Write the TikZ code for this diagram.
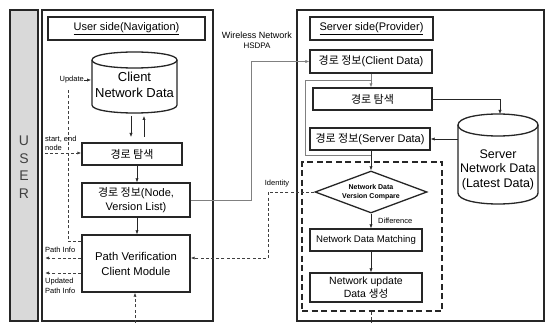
\documentclass[tikz,border=0pt]{standalone}
\usepackage{fontspec}
\setmainfont{Liberation Sans}
\newfontfamily\kr{Noto Sans CJK KR}
\usetikzlibrary{arrows.meta,shapes.geometric,calc}
\begin{document}
\begin{tikzpicture}[x=1pt,y=-1pt,
  frame/.style={draw=black!85, line width=1.3pt},
  box/.style={draw=black!85, line width=1.3pt, rectangle, inner sep=0pt, align=center,
    font=\fontsize{11}{13}\selectfont},
  cyltext/.style={inner sep=0pt, align=center, font=\fontsize{13}{16}\selectfont},
  arr/.style={draw=black!85, line width=0.6pt, -{Latex[length=4pt,width=3.2pt]}},
  gline/.style={draw=black!50, line width=0.7pt},
  garr/.style={gline, -{Latex[length=4pt,width=3.2pt]}},
  dline/.style={draw=black!75, line width=0.9pt, dash pattern=on 3pt off 2.2pt},
  darr/.style={dline, -{Latex[length=4pt,width=3.2pt]}},
  lbl/.style={inner sep=0pt, font=\fontsize{7.5}{8.5}\selectfont, align=left}]
\useasboundingbox (0,0) rectangle (545,323);
\fill[white] (0,0) rectangle (545,323);

% USER bar
\node[frame, fill=black!15, rectangle, minimum width=28pt, minimum height=311pt, inner sep=0pt] (user) at (24,165.5) {};
\node[inner sep=0pt, align=center, text=black!75, font=\fontsize{14}{17.5}\selectfont] (usertxt) at (24,167) {U\\S\\E\\R};

% left side
\node[frame, rectangle, minimum width=171pt, minimum height=311pt, inner sep=0pt] (lframe) at (127.5,165.5) {};
\node[box, minimum width=157pt, minimum height=23pt] (ltitle) at (126.5,28.5) {\underline{User side(Navigation)}};

% client cylinder
\draw[draw=black!85, line width=1.3pt, fill=white]
  (92,60) -- (92,105) .. controls (92,115.67) and (177,115.67) .. (177,105) -- (177,60);
\draw[draw=black!85, line width=1.3pt]
  (92,60) .. controls (92,49.33) and (177,49.33) .. (177,60)
  .. controls (177,70.67) and (92,70.67) .. (92,60);
\node[cyltext] (ccyl) at (134.5,85) {Client\\Network Data};
\coordinate (ccylbot1) at (131,116);
\coordinate (ccylbot2) at (144,116);
\coordinate (ccylleft) at (91,80);

\node[box, minimum width=100pt, minimum height=22pt] (lsearch) at (132,154) {{\kr\fontsize{11}{12}\selectfont 경로 탐색}};
\node[box, minimum width=108pt, minimum height=34pt, font=\fontsize{11}{14}\selectfont] (linfo) at (136,200) {{\kr\fontsize{11}{12}\selectfont 경로 정보}(Node,\\Version List)};
\node[box, minimum width=108pt, minimum height=57pt, font=\fontsize{11.3}{15}\selectfont] (pv) at (136,263.5) {Path Verification\\Client Module};

% left connectors
\coordinate (a1) at (131,137);
\coordinate (a2) at (144,137);
\draw[arr] (ccylbot1) -- (a1);
\draw[arr] (a2) -- (ccylbot2);
\draw[arr] (lsearch.south -| 137,0) -- (linfo.north -| 137,0);
\draw[arr] (linfo.south -| 137,0) -- (pv.north -| 137,0);

\node[lbl, anchor=east] (updlbl) at (84,80) {Update};
\draw[arr] (updlbl.east) -- (ccylleft);
\coordinate (upd1) at (68,241);
\coordinate (upd2) at (68,88);
\draw[dline] (pv.west |- upd1) -- (upd1) -- (upd2);

\node[lbl, anchor=west] (selbl) at (45,139) {start, end};
\node[lbl, anchor=west] (nodelbl) at (45,148) {node};
\coordinate (se0) at (45,153);
\draw[darr] (se0) -- (lsearch.west |- se0);

\coordinate (pi0) at (45,258);
\coordinate (up0) at (45,273);
\draw[darr] (pv.west |- pi0) -- (pi0);
\draw[darr] (pv.west |- up0) -- (up0);
\node[lbl, anchor=west] (pilbl) at (45,250) {Path Info};
\node[lbl, anchor=west, font=\fontsize{7.5}{9.5}\selectfont] (uplbl) at (45,286) {Updated\\Path Info};

\coordinate (pvbot0) at (135,323);
\draw[darr] (pvbot0) -- (pv.south -| pvbot0);

% wireless label
\node[inner sep=0pt, align=center, font=\fontsize{9}{11}\selectfont] (wl) at (257,40.5) {Wireless Network\\[-1pt]{\fontsize{8}{9}\selectfont HSDPA}};

% right side
\node[frame, rectangle, minimum width=247pt, minimum height=311pt, inner sep=0pt] (rframe) at (420.5,165.5) {};
\node[box, minimum width=123pt, minimum height=23pt] (rtitle) at (371.5,28.5) {\underline{Server side(Provider)}};
\node[box, minimum width=122pt, minimum height=23pt] (cdata) at (371,61.5) {{\kr\fontsize{11}{12}\selectfont 경로 정보}(Client Data)};
\node[box, minimum width=119pt, minimum height=22pt] (rsearch) at (372.5,99) {{\kr\fontsize{11}{12}\selectfont 경로 탐색}};
\node[box, minimum width=120pt, minimum height=22pt] (sdata) at (370,139) {{\kr\fontsize{11}{12}\selectfont 경로 정보}(Server Data)};

% server cylinder
\draw[draw=black!85, line width=1.3pt, fill=white]
  (458,125) -- (458,193) .. controls (458,207.67) and (538,207.67) .. (538,193) -- (538,125);
\draw[draw=black!85, line width=1.3pt]
  (458,125) .. controls (458,110.33) and (538,110.33) .. (538,125)
  .. controls (538,139.67) and (458,139.67) .. (458,125);
\node[cyltext, font=\fontsize{12.5}{14.5}\selectfont] (scyl) at (498,169.5) {Server\\Network Data\\(Latest Data)};
\coordinate (scyltop) at (500,114);
\coordinate (scylleft) at (458,139);

% dashed group
\node[draw=black!85, line width=1.6pt, dash pattern=on 6pt off 3.5pt, rectangle, minimum width=140pt, minimum height=149pt, inner sep=0pt] (dbox) at (372,236.5) {};
\node[diamond, draw=black!85, line width=1.3pt, aspect=2.67, minimum width=112pt, minimum height=42pt, inner sep=0pt, align=center, font=\bfseries\fontsize{7}{8.5}\selectfont] (diam) at (371,192) {Network Data\\Version Compare};
\node[box, minimum width=112pt, minimum height=22pt, font=\fontsize{9.6}{12}\selectfont] (match) at (366,240) {Network Data Matching};
\node[box, minimum width=112pt, minimum height=29pt, font=\fontsize{10.5}{13.5}\selectfont] (upd) at (366,287.5) {Network update\\Data {\kr\fontsize{10.5}{12}\selectfont 생성}};

% right connectors
\draw[garr] (cdata.south) -- (cdata.south |- rsearch.north);
\coordinate (br) at (371,80);
\coordinate (brl) at (305,80);
\coordinate (brb) at (305,155);
\coordinate (brr) at (371,155);
\draw[gline] (br) -- (brl) -- (brb) -- (brr);
\draw[arr] (sdata.south -| diam.north) -- (diam.north);
\draw[arr] (rsearch.east) -| (scyltop);
\draw[arr] (scylleft) -- (sdata.east);
\draw[garr] (linfo.east) -- ++(61,0) |- (cdata.west);

\coordinate (id1) at (268,258);
\draw[darr] (diam.west) -| (id1) -- (pv.east |- id1);
\node[lbl, anchor=south] (idlbl) at (277,187) {Identity};

\draw[arr] (diam.south) -- (diam.south |- match.north);
\node[lbl, anchor=west] (difflbl) at (378,221) {Difference};
\draw[arr] (match.south -| diam.south) -- (upd.north -| diam.south);

\coordinate (dbot) at (371,323);
\draw[dline] (dbox.south -| dbot) -- (dbot);
\end{tikzpicture}
\end{document}
